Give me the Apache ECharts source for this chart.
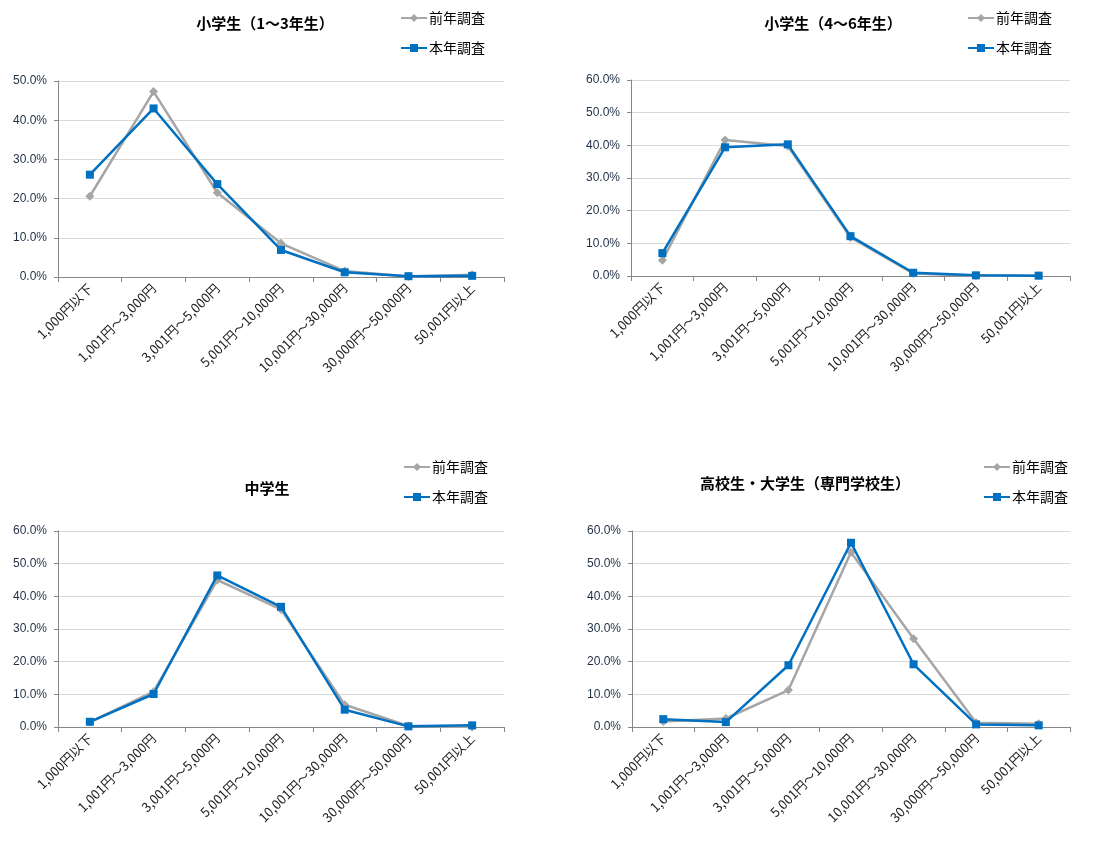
<!DOCTYPE html>
<html>
<head>
<meta charset="utf-8">
<script src="https://cdn.jsdelivr.net/npm/echarts@6/dist/echarts.min.js"></script>
<style>
  html, body { margin: 0; padding: 0; background: #fff; }
  #chart { width: 1110px; height: 843px; }
</style>
</head>
<body>
<div id="chart"></div>
<script>
// categories (金額帯)
const categories = ['1,000円以下', '1,001円～3,000円', '3,001円～5,000円', '5,001円～10,000円',
  '10,001円～30,000円', '30,000円～50,000円', '50,001円以上'];
const seriesNames = ['前年調査', '本年調査'];
const titles = ['小学生（1～3年生）', '小学生（4～6年生）', '中学生', '高校生・大学生（専門学校生）'];

// values in %
const elemLowPrev = [20.6, 47.3, 21.5, 8.6, 1.5, 0.1, 0.6];
const elemLowCur = [26.1, 43.0, 23.7, 6.9, 1.2, 0.2, 0.3];
const elemHighPrev = [4.8, 41.6, 39.8, 11.8, 0.8, 0.1, 0.1];
const elemHighCur = [7.0, 39.4, 40.3, 12.2, 1.0, 0.2, 0.1];
const juniorPrev = [1.5, 10.8, 45.0, 36.0, 6.8, 0.3, 0.0];
const juniorCur = [1.6, 10.1, 46.4, 36.8, 5.3, 0.2, 0.5];
const highPrev = [1.7, 2.6, 11.3, 53.5, 27.0, 1.3, 1.0];
const highCur = [2.4, 1.5, 18.9, 56.4, 19.2, 0.8, 0.5];

const yMax = [50, 60, 60, 60];
const prevData = [elemLowPrev, elemHighPrev, juniorPrev, highPrev];
const curData = [elemLowCur, elemHighCur, juniorCur, highCur];

const font = '"Noto Sans CJK JP", "Noto Sans", sans-serif';
const grids = [
  {left: 58, top: 81, width: 446, height: 196},
  {left: 631, top: 80, width: 439, height: 196},
  {left: 58, top: 531, width: 446, height: 196},
  {left: 632, top: 531, width: 438, height: 196}
];
const titlePos = [[265, 16], [833, 16], [267, 481], [805, 476]];
const legendPos = [[400, 11], [967, 11], [403, 460], [983, 460]];

let option = {
  animation: false,
  textStyle: {fontFamily: font},
  title: titles.map((t, i) => ({
    text: t, left: titlePos[i][0], top: titlePos[i][1], textAlign: 'center', padding: 0,
    textStyle: {fontSize: 15, fontWeight: 'bold', color: '#000', fontFamily: font}
  })),
  legend: legendPos.map(p => ({
    left: p[0], top: p[1], orient: 'vertical', itemGap: 16, padding: 0,
    itemWidth: 26, itemHeight: 10,
    textStyle: {fontSize: 14, color: '#000', fontFamily: font, padding: [0, 0, 0, -3]},
    data: seriesNames
  })),
  grid: grids,
  xAxis: grids.map((g, i) => ({
    type: 'category', gridIndex: i, data: categories, boundaryGap: true,
    axisLine: {lineStyle: {color: '#868686', width: 1}},
    axisTick: {show: true, length: 5, lineStyle: {color: '#868686'}},
    axisLabel: {rotate: 45, fontSize: 13, color: '#222', margin: 9, interval: 0, fontFamily: font}
  })),
  yAxis: grids.map((g, i) => ({
    type: 'value', gridIndex: i, min: 0, max: yMax[i], interval: 10,
    axisLine: {show: true, lineStyle: {color: '#868686', width: 1}},
    axisTick: {show: true, length: 4, lineStyle: {color: '#868686'}},
    splitLine: {lineStyle: {color: '#d9d9d9'}},
    axisLabel: {fontSize: 12, color: '#1f2f44', margin: 11, fontFamily: 'Liberation Sans, sans-serif',
      formatter: v => v.toFixed(1) + '%'}
  })),
  series: []
};

for (let i = 0; i < 4; i++) {
  option.series.push({
    name: seriesNames[0], type: 'line', xAxisIndex: i, yAxisIndex: i,
    data: prevData[i], symbol: 'diamond', symbolSize: 9,
    itemStyle: {color: '#a6a6a6'}, lineStyle: {color: '#a6a6a6', width: 2.5}, z: 2
  });
  option.series.push({
    name: seriesNames[1], type: 'line', xAxisIndex: i, yAxisIndex: i,
    data: curData[i], symbol: 'rect', symbolSize: 8,
    itemStyle: {color: '#0070c0'}, lineStyle: {color: '#0070c0', width: 2.5}, z: 3
  });
}

let myChart = echarts.init(document.getElementById('chart'));
myChart.setOption(option);
</script>
</body>
</html>
